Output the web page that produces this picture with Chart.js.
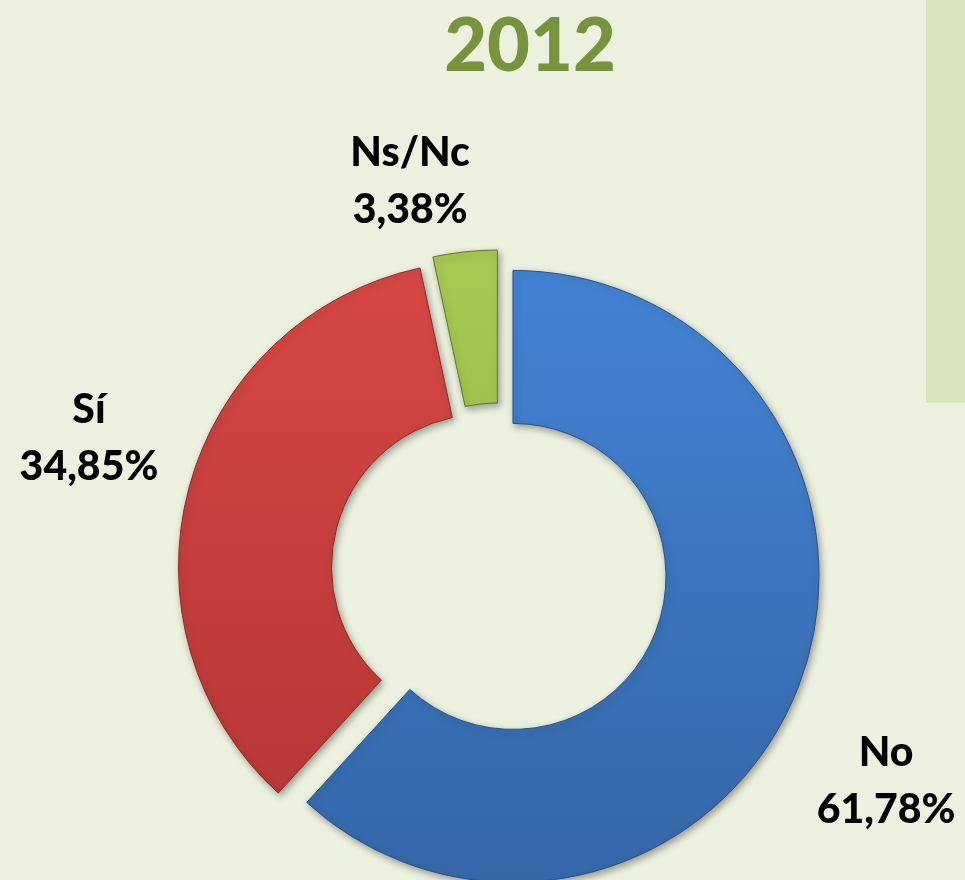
<!DOCTYPE html>
<html>
<head>
<meta charset="utf-8">
<script src="https://cdn.jsdelivr.net/npm/chart.js@4"></script>
<style>
  html, body { margin: 0; padding: 0; background: #EBF0DF; }
  #wrap { width: 965px; height: 880px; position: relative; }
</style>
</head>
<body>
<div id="wrap"><canvas id="donut"></canvas></div>
<script>
// datos 2012
const titleText = '2012';
const categories = ['No', 'Sí', 'Ns/Nc'];
const percentages = [61.78, 34.85, 3.38];

// colores (arriba -> abajo) para imitar el bisel de Excel
const topColors = ['#4485D6', '#D94845', '#A6CC52'];
const bottomColors = ['#3566A8', '#B23532', '#8BAD3D'];
const edgeColors = ['#2B5189', '#8E2A28', '#5E7A25'];

const EXPLODE = 15;
// posicion de las etiquetas: distancia (x radio) y giro (grados) respecto al centro del sector
const labelPlace = [
    { dist: 1.39, turn: 7.5 },
    { dist: 1.36, turn: 3 },
    { dist: 1.26, turn: -7 }
];

function fmt(v) {
    return v.toFixed(2).replace('.', ',') + '%';
}

function sliceGradient(ctx) {
    const chart = ctx.chart;
    const area = chart.chartArea;
    if (!area) return topColors[ctx.dataIndex];
    const g = chart.ctx.createLinearGradient(0, area.top - 20, 0, area.bottom);
    g.addColorStop(0, topColors[ctx.dataIndex]);
    g.addColorStop(1, bottomColors[ctx.dataIndex]);
    return g;
}

const decor = {
    id: 'decor',
    beforeDraw(chart) {
        const c = chart.ctx;
        c.save();
        c.fillStyle = '#EBF0DF';
        c.fillRect(0, 0, chart.width, chart.height);
        c.fillStyle = '#D8E4BC';
        c.fillRect(926, 0, chart.width - 926, 403);
        c.restore();
    },
    afterDatasetUpdate(chart, args) {
        // separar los sectores como en el grafico original
        args.meta.data.forEach(arc => {
            const mid = (arc.startAngle + arc.endAngle) / 2;
            arc.x += Math.cos(mid) * EXPLODE;
            arc.y += Math.sin(mid) * EXPLODE;
        });
    },
    beforeDatasetsDraw(chart) {
        const c = chart.ctx;
        c.save();
        c.shadowColor = 'rgba(0,0,0,0.35)';
        c.shadowBlur = 7;
        c.shadowOffsetX = 2;
        c.shadowOffsetY = 3;
    },
    afterDatasetsDraw(chart) {
        chart.ctx.restore();
    },
    afterDraw(chart) {
        const c = chart.ctx;
        c.save();
        c.textAlign = 'center';
        c.textBaseline = 'alphabetic';
        c.fillStyle = '#77933C';
        c.font = '900 74px Lato';
        c.fillText(titleText, 530, 71);

        c.fillStyle = '#000000';
        c.font = '900 41px Lato';
        c.textBaseline = 'middle';
        const arcs = chart.getDatasetMeta(0).data;
        arcs.forEach((arc, i) => {
            const p = labelPlace[i];
            const ang = (arc.startAngle + arc.endAngle) / 2 + p.turn * Math.PI / 180;
            const d = arc.outerRadius * p.dist;
            const x = arc.x + Math.cos(ang) * d;
            const y = arc.y + Math.sin(ang) * d;
            c.fillText(categories[i], x, y - 28);
            c.fillText(fmt(percentages[i]), x, y + 29);
        });
        c.restore();
    }
};

new Chart(document.getElementById('donut'), {
    type: 'doughnut',
    data: {
        labels: categories,
        datasets: [{
            data: percentages,
            backgroundColor: sliceGradient,
            borderColor: edgeColors,
            borderWidth: 1
        }]
    },
    options: {
        responsive: true,
        maintainAspectRatio: false,
        animation: false,
        events: [],
        radius: 306,
        cutout: '50%',
        layout: { padding: { left: 33, right: 0, top: 262, bottom: 0 } },
        plugins: {
            legend: { display: false },
            title: { display: false },
            tooltip: { enabled: false }
        }
    },
    plugins: [decor]
});
</script>
</body>
</html>
